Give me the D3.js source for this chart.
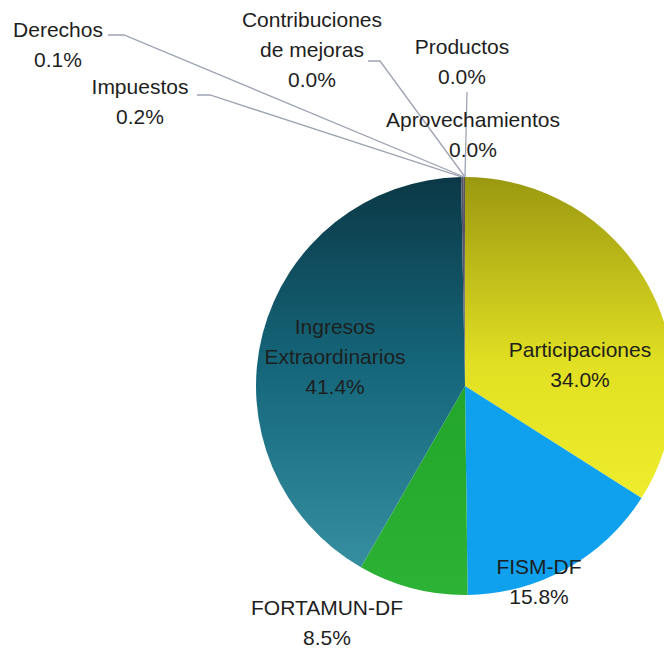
<!DOCTYPE html>
<html>
<head>
<meta charset="utf-8">
<script src="https://cdn.jsdelivr.net/npm/d3@7"></script>
<style>
  html, body { margin: 0; padding: 0; background: #fff; }
  svg text { font-family: "Liberation Sans", Arial, sans-serif; fill: #1e1e1e; }
</style>
</head>
<body>
<div id="chart"></div>
<script>
// data, clockwise from 12 o'clock
const categories = ["Participaciones", "FISM-DF", "FORTAMUN-DF", "Ingresos Extraordinarios",
                    "Impuestos", "Derechos", "Contribuciones de mejoras", "Productos", "Aprovechamientos"];
const shares = [34.0, 15.8, 8.5, 41.4, 0.2, 0.1, 0.0, 0.0, 0.0];
const labelLines = [
    ["Participaciones"], ["FISM-DF"], ["FORTAMUN-DF"], ["Ingresos", "Extraordinarios"],
    ["Impuestos"], ["Derechos"], ["Contribuciones", "de mejoras"], ["Productos"], ["Aprovechamientos"]
];

function run() {
    const w = 664, h = 650;
    const cx = 465, cy = 386, r = 209;

    const svg = d3.select("#chart").append("svg")
        .attr("width", w).attr("height", h);

    // gradients live in the pie group's coordinates (centre at 0,0)
    const defs = svg.append("defs");
    function grad(id, top, mid, bottom) {
        const g = defs.append("linearGradient").attr("id", id)
            .attr("gradientUnits", "userSpaceOnUse")
            .attr("x1", 0).attr("y1", -r).attr("x2", 0).attr("y2", r);
        g.append("stop").attr("offset", "0%").attr("stop-color", top);
        g.append("stop").attr("offset", "45%").attr("stop-color", mid);
        g.append("stop").attr("offset", "100%").attr("stop-color", bottom);
    }
    grad("gPart", "#9a9810", "#e2e022", "#f6f535");
    grad("gIng", "#0b3846", "#15667a", "#3a94a6");
    grad("gFort", "#1c9a24", "#22a52a", "#2cb234");

    const fills = ["url(#gPart)", "#0fa0ee", "url(#gFort)", "url(#gIng)",
                   "#556", "#556", "#556", "#556", "#556"];

    const pie = d3.pie().sort(null).value(d => d);
    const arcs = pie(shares);
    const arc = d3.arc().innerRadius(0).outerRadius(r);

    const g = svg.append("g").attr("transform", `translate(${cx},${cy})`);
    g.selectAll("path")
        .data(arcs)
        .enter()
        .append("path")
        .attr("d", arc)
        .attr("fill", (d, i) => fills[i]);

    // label positions (layout only)
    const inside = {
        0: [580, 350], 1: [539, 567], 2: [327, 608], 3: [335, 327]
    };
    const outside = {
        4: { x: 140, y: 87, lead: [[197, 95], [210, 95]] },
        5: { x: 58, y: 30, lead: [[108, 35], [124, 35]] },
        6: { x: 312, y: 20, lead: [[368, 61], [380, 61]] },
        7: { x: 462, y: 47, lead: [[467, 92]] },
        8: { x: 473, y: 120, lead: null }
    };
    const lh = 30;

    // leader lines
    arcs.forEach((d, i) => {
        const o = outside[i];
        if (!o || !o.lead) return;
        const a = (d.startAngle + d.endAngle) / 2;
        const px = cx + Math.sin(a) * r, py = cy - Math.cos(a) * r;
        const pts = o.lead.concat([[px, py]]);
        svg.append("path")
            .attr("d", d3.line()(pts))
            .attr("fill", "none")
            .attr("stroke", "#9ea3b4")
            .attr("stroke-width", 1.3);
    });

    function label(x, y, lines, pct) {
        const t = svg.append("text")
            .attr("text-anchor", "middle")
            .attr("font-size", "21px");
        lines.concat([pct]).forEach((s, k) => {
            t.append("tspan").attr("x", x).attr("y", y + k * lh + 7).text(s);
        });
    }

    arcs.forEach((d, i) => {
        const pct = shares[i].toFixed(1) + "%";
        if (inside[i]) label(inside[i][0], inside[i][1], labelLines[i], pct);
        else label(outside[i].x, outside[i].y, labelLines[i], pct);
    });
}
window.addEventListener("load", run);
</script>
</body>
</html>
